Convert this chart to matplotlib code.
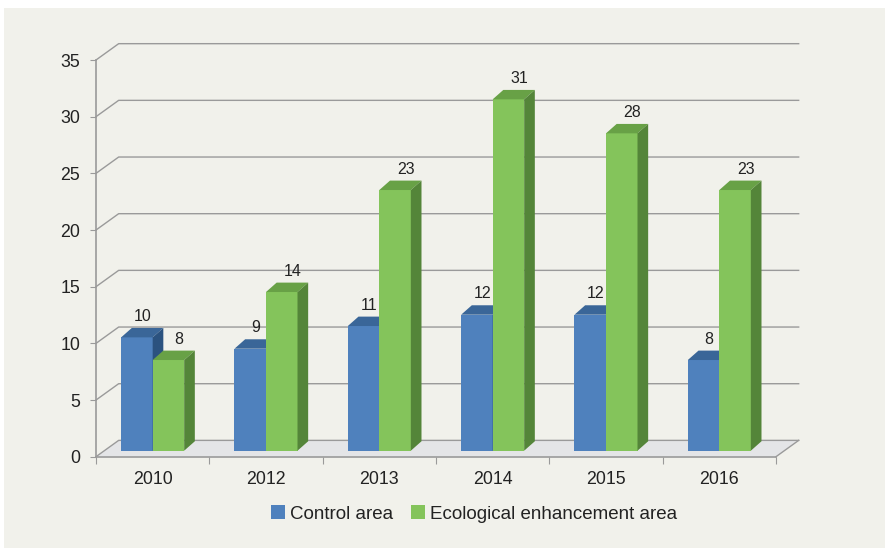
import matplotlib
matplotlib.use('Agg')
import numpy as np
import matplotlib.pyplot as plt
from matplotlib.patches import Polygon, Rectangle, Patch

plt.rcParams['font.family'] = ['Liberation Sans', 'DejaVu Sans']

# Data
years = ['2010', '2012', '2013', '2014', '2015', '2016']
control = [10, 9, 11, 12, 12, 8]
enhancement = [8, 14, 23, 31, 28, 23]
series_names = ['Control area', 'Ecological enhancement area']

# Style
front_cols = ['#4f81bd', '#84c45b']
top_cols = ['#3a6698', '#68a146']
side_cols = ['#2b527f', '#548539']
label_nudge = [0.5, 1.0]          # data label shift, in units of bar depth
grid_col = '#9a9a9a'
text_col = '#222222'

# 3D look (data units)
WX, WY = 0.2, 1.44                # back wall offset
BASE = 0.53                       # bar front plane above floor front edge
BW = 0.278                        # bar width
DX, DY = 0.094, 0.83              # bar depth

W, H = 885, 548
fig = plt.figure(figsize=(W / 100, H / 100), dpi=100, facecolor='white')
fig.patches.append(Rectangle((4 / W, 0), 1 - 4 / W, 1 - 8 / H, transform=fig.transFigure,
                             facecolor='#f1f1eb', edgecolor='none', zorder=-5))

ax = fig.add_axes([96 / W, (H - 456.7) / H, 680 / W, (456.7 - 60) / H])
ax.set_xlim(0, 6)
ax.set_ylim(0, 35)
ax.patch.set_visible(False)

# Floor
ax.add_patch(Polygon([(0, 0), (6, 0), (6 + WX, WY), (WX, WY)], closed=True,
                     facecolor='#e4e5e7', edgecolor='none', zorder=1, clip_on=False))
ax.plot([6, 6 + WX], [0, WY], color=grid_col, lw=1, zorder=1.5, clip_on=False)

# Gridlines on side and back walls
for v in range(0, 36, 5):
    ax.plot([0, WX, 6 + WX], [v, v + WY, v + WY], color=grid_col, lw=1, zorder=1.2, clip_on=False)


def bar3d(x0, v, k):
    ax.add_patch(Rectangle((x0, BASE), BW, v, facecolor=front_cols[k], edgecolor='none',
                           zorder=3, clip_on=False))
    ax.add_patch(Polygon([(x0, BASE + v), (x0 + BW, BASE + v), (x0 + BW + DX, BASE + v + DY),
                          (x0 + DX, BASE + v + DY)], closed=True, facecolor=top_cols[k],
                         edgecolor='none', zorder=3, clip_on=False))
    ax.add_patch(Polygon([(x0 + BW, BASE), (x0 + BW + DX, BASE + DY), (x0 + BW + DX, BASE + v + DY),
                          (x0 + BW, BASE + v)], closed=True, facecolor=side_cols[k],
                         edgecolor='none', zorder=3, clip_on=False))
    ax.text(x0 + BW / 2 + DX * label_nudge[k], BASE + v + DY + 1.0, str(v),
            ha='center', va='center', fontsize=11.5, color=text_col, zorder=4)


for i in range(len(years)):
    bar3d(i + 0.5 - BW, control[i], 0)
    bar3d(i + 0.5, enhancement[i], 1)

# Axes
for s in ['top', 'right']:
    ax.spines[s].set_visible(False)
for s in ['left', 'bottom']:
    ax.spines[s].set_color(grid_col)
    ax.spines[s].set_linewidth(1.2)
    ax.spines[s].set_zorder(2)

ax.set_yticks(range(0, 36, 5))
ax.tick_params(axis='y', direction='out', length=4.3, pad=7, color=grid_col,
               labelcolor=text_col, labelsize=12.8)
ax.set_xticks(range(7))
ax.set_xticklabels([])
ax.set_xticks(np.arange(6) + 0.5, minor=True)
ax.set_xticklabels(years, minor=True)
ax.tick_params(axis='x', which='major', direction='out', length=4.7, color=grid_col)
ax.tick_params(axis='x', which='minor', length=0, pad=10, labelcolor=text_col, labelsize=12.8)

handles = [Patch(facecolor=c, edgecolor='none') for c in front_cols]
fig.legend(handles, series_names, loc='center', bbox_to_anchor=(474 / W, 1 - 514 / H), ncol=2,
           frameon=False, fontsize=13.5, handlelength=0.75, handleheight=0.75,
           handletextpad=0.25, columnspacing=1.0, labelcolor=text_col)

fig.savefig('out.png', dpi=100)
